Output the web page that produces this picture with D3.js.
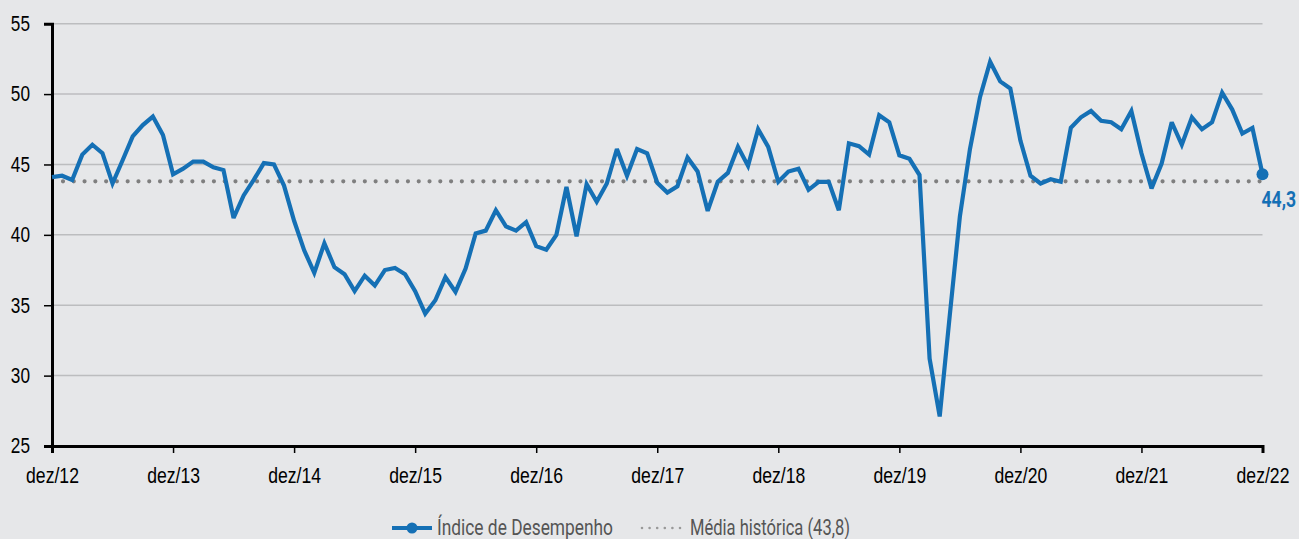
<!DOCTYPE html>
<html><head><meta charset="utf-8">
<script src="https://cdn.jsdelivr.net/npm/d3@7"></script>
<style>
html,body{margin:0;padding:0;background:#e6e7e9;}
svg{display:block;font-family:Roboto,"Liberation Sans",sans-serif;}
</style></head>
<body>
<svg id="chart" width="1299" height="539"></svg>
<script>
// Monthly values, dez/12 .. dez/22
const indice = [
44.1,44.2,43.9,45.7,46.4,45.8,43.65,45.3,47.0,47.8,48.4,47.1,
44.3,44.7,45.2,45.2,44.8,44.6,41.2,42.8,43.9,45.1,45.0,43.5,
41.0,38.9,37.3,39.4,37.7,37.2,36.0,37.1,36.4,37.5,37.65,37.2,
36.0,34.4,35.35,37.0,35.95,37.6,40.1,40.3,41.75,40.6,40.3,40.9,
39.2,38.95,40.0,43.4,39.9,43.6,42.35,43.65,46.1,44.2,46.1,45.8,
43.7,43.0,43.45,45.5,44.5,41.7,43.77,44.4,46.25,44.9,47.5,46.25,
43.77,44.5,44.7,43.2,43.77,43.77,41.75,46.5,46.3,45.7,48.5,48.0,
45.65,45.4,44.25,31.2,27.1,34.3,41.3,46.1,49.8,52.3,50.9,50.4,
46.7,44.2,43.65,43.95,43.77,47.6,48.35,48.8,48.1,48.0,47.5,48.8,
45.8,43.3,45.07,48.0,46.4,48.35,47.5,48.0,50.1,48.9,47.2,47.6,
44.3
];
const media = 43.8;
const xTickLabels = ["dez/12","dez/13","dez/14","dez/15","dez/16","dez/17","dez/18","dez/19","dez/20","dez/21","dez/22"];
const yTicks = [25,30,35,40,45,50,55];
const legendLabels = ["Índice de Desempenho","Média histórica (43,8)"];
const lastLabel = "44,3";

const svg = d3.select("#chart");
const x = d3.scaleLinear().domain([0, indice.length-1]).range([52, 1262.5]);
const y = d3.scaleLinear().domain([25,55]).range([446, 23.7]);

const blue = "#1570b5";
const condense = (sel, factor) => sel.each(function(){
  const n = this.getComputedTextLength();
  d3.select(this).attr("textLength", n*factor).attr("lengthAdjust","spacingAndGlyphs");
});

// gridlines
svg.append("g").selectAll("line").data(yTicks.filter(d=>d>25)).join("line")
  .attr("x1", x(0)).attr("x2", x(indice.length-1))
  .attr("y1", d=>y(d)).attr("y2", d=>y(d))
  .attr("stroke", "#bcbdbf").attr("stroke-width", 1.5);

// y axis
const yAxis = svg.append("g").attr("transform", `translate(${x(0)},0)`)
  .call(d3.axisLeft(y).tickValues(yTicks).tickSize(8).tickPadding(14).tickFormat(d3.format("d")));
yAxis.select(".domain").attr("stroke","#000").attr("stroke-width",3);
yAxis.selectAll(".tick line").attr("stroke","#000").attr("stroke-width",1.5);
yAxis.selectAll(".tick text").attr("font-size",21.5).attr("fill","#000").call(condense, 0.8);

// x axis
const xAxis = svg.append("g").attr("transform", `translate(0,${y(25)})`)
  .call(d3.axisBottom(x).tickValues(d3.range(0, indice.length, 12)).tickSize(7).tickPadding(14)
    .tickFormat((d,i)=>xTickLabels[i]));
xAxis.select(".domain").attr("stroke","#000").attr("stroke-width",3);
xAxis.selectAll(".tick line").attr("stroke","#000").attr("stroke-width",1.5);
xAxis.selectAll(".tick text").attr("font-size",22).attr("fill","#000").call(condense, 0.8);

// média histórica
svg.append("line")
  .attr("x1", x(0)+11).attr("x2", x(indice.length-1))
  .attr("y1", y(media)).attr("y2", y(media))
  .attr("stroke", "#7f7f7f").attr("stroke-width", 4.2)
  .attr("stroke-linecap","round").attr("stroke-dasharray","0 10.78");

// line
const line = d3.line().x((d,i)=>x(i)).y(d=>y(d));
svg.append("path").datum(indice)
  .attr("d", line).attr("fill","none").attr("stroke", blue)
  .attr("stroke-width", 4.2).attr("stroke-linejoin","miter").attr("stroke-miterlimit",3);

// last point
const li = indice.length-1;
svg.append("circle").attr("cx", x(li)).attr("cy", y(indice[li])).attr("r", 6).attr("fill", blue);
svg.append("text").attr("x", x(li)-1).attr("y", y(indice[li])+33)
  .attr("font-size", 22).attr("font-weight","bold").attr("fill", blue).text(lastLabel).call(condense, 0.8);

// legend
const lg = svg.append("g");
lg.append("line").attr("x1",392).attr("x2",432).attr("y1",528).attr("y2",528)
  .attr("stroke",blue).attr("stroke-width",4);
lg.append("circle").attr("cx",412).attr("cy",528).attr("r",5.5).attr("fill",blue);
lg.append("text").attr("x",437).attr("y",535).attr("font-size",21.5).attr("fill","#555")
  .attr("textLength",176).attr("lengthAdjust","spacingAndGlyphs").text(legendLabels[0]);
lg.append("line").attr("x1",642).attr("x2",680).attr("y1",528).attr("y2",528)
  .attr("stroke","#999").attr("stroke-width",2.6).attr("stroke-linecap","round").attr("stroke-dasharray","0 7.6");
lg.append("text").attr("x",690).attr("y",535).attr("font-size",21.5).attr("fill","#555")
  .attr("textLength",160).attr("lengthAdjust","spacingAndGlyphs").text(legendLabels[1]);
</script>
</body></html>
